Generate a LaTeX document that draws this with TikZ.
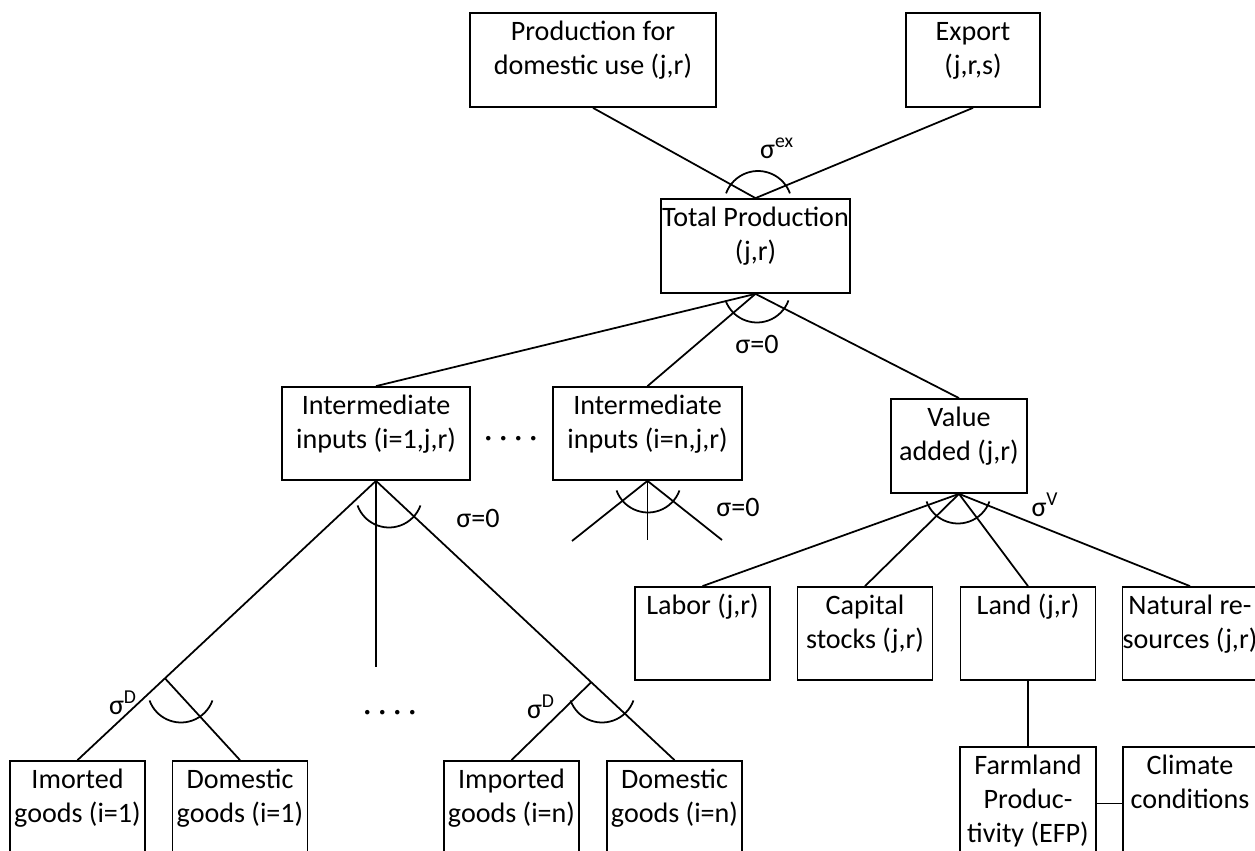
\documentclass[tikz,border=0pt]{standalone}
\usepackage{fontspec}
\setmainfont{Carlito}
\usetikzlibrary{calc}

\newlength{\px}
\setlength{\px}{0.02cm}
% box text: width, height (px), lines
\newcommand{\boxtext}[3]{\parbox[c][#2\px][t]{#1\px}{\centering\rule{0pt}{15.5pt}#3}}
% elasticity arcs round a point
\newcommand{\arcdown}[1]{\draw[conn] ([shift={(200:0.67cm)}]#1) arc[start angle=200,end angle=340,radius=0.67cm];}
\newcommand{\arcup}[1]{\draw[conn] ([shift={(20:0.68cm)}]#1) arc[start angle=20,end angle=160,radius=0.68cm];}
\newcommand{\fourdots}{{\fontsize{18}{18}\selectfont ·\hspace{4pt}·\hspace{4pt}·\hspace{4pt}·}}

\tikzset{
  box/.style={draw, line width=1pt, inner sep=0pt},
  conn/.style={line width=1pt},
  sig/.style={inner sep=1pt},
}

\begin{document}
\begin{tikzpicture}[x=0.02cm, y=-0.02cm, font=\fontsize{16}{19.35}\selectfont]
  \useasboundingbox (0,0) rectangle (1255,851);

  % output side
  \node[box] (prod) at (593,60) {\boxtext{246}{94}{Production for\\domestic use (j,r)}};
  \node[box] (exp)  at (973,60) {\boxtext{134}{94}{Export\\(j,r,s)}};
  \node[box] (tot)  at (755.5,246) {\boxtext{189}{94}{Total Production\\(j,r)}};
  \draw[conn] (prod.south) -- (tot.north);
  \draw[conn] (exp.south) -- (tot.north);
  \arcup{758,205}
  \node[sig] (sigex) at (777,148) {σ\textsuperscript{ex}};

  % first nest
  \node[box] (int1) at (376,433.5) {\boxtext{188}{93}{Intermediate\\inputs (i=1,j,r)}};
  \node[box] (intn) at (647.5,433.5) {\boxtext{189}{93}{Intermediate\\inputs (i=n,j,r)}};
  \node[box] (va)   at (959,446) {\boxtext{136}{94}{Value\\added (j,r)}};
  \node (dotsa) at (511,442) {\fourdots};
  \foreach \nm in {int1,intn,va}
    \draw[conn] (tot.south) -- (\nm.north);
  \arcdown{757,289}
  \node[sig] (sigtot) at (757,344) {σ=0};

  % armington goods
  \foreach \nm/\x/\txt in {imp1/77.5/{Imorted\\goods (i=1)}, dom1/240/{Domestic\\goods (i=1)},
                           impn/511.5/{Imported\\goods (i=n)}, domn/674.5/{Domestic\\goods (i=n)}}
    \node[box] (\nm) at (\x,808) {\boxtext{135}{94}{\txt}};
  \node (dotsb) at (390,716) {\fourdots};

  \coordinate (vmid) at (376,667);
  \draw[conn] (int1.south) -- (imp1.north);
  \draw[conn] (int1.south) -- (vmid);
  \draw[conn] (int1.south) -- (domn.north);
  \coordinate (jl) at ($(int1.south)!0.707!(imp1.north)$);
  \coordinate (jr) at ($(int1.south)!0.721!(domn.north)$);
  \draw[conn] (jl) -- (dom1.north);
  \draw[conn] (jr) -- (impn.north);
  \arcdown{389,494}
  \arcdown{181,689}
  \arcdown{602,689}
  \node[sig] (sigone) at (478,518) {σ=0};
  \node[sig] (sigdl) at (123,703) {σ\textsuperscript{D}};
  \node[sig] (sigdr) at (541,707) {σ\textsuperscript{D}};

  % stubs below the n-th input
  \coordinate (sl) at (572,541);
  \coordinate (sm) at (647.5,540);
  \coordinate (sr) at (722,540);
  \foreach \c in {sl,sm,sr}
    \draw[conn] (intn.south) -- (\c);
  \arcdown{648,479}
  \node[sig] (sign) at (738,507) {σ=0};

  % value added
  \foreach \nm/\x/\txt in {lab/702.5/{Labor (j,r)}, cap/865/{Capital\\stocks (j,r)},
                           land/1028/{Land (j,r)}, nat/1190/{Natural re-\\sources (j,r)}}
    \node[box] (\nm) at (\x,633.5) {\boxtext{135}{93}{\txt}};
  \foreach \nm in {lab,cap,land,nat}
    \draw[conn] (va.south) -- (\nm.north);
  \arcdown{958,490}
  \node[sig] (sigv) at (1045,505) {σ\textsuperscript{V}};

  % land productivity
  \node[box] (farm) at (1028,803.5) {\boxtext{136}{113}{Farmland\\Produc-\\tivity (EFP)}};
  \node[box] (clim) at (1190,803.5) {\boxtext{134}{113}{Climate\\conditions}};
  \draw[conn] (land.south) -- (farm.north);
  \draw[conn] (farm.east) -- (clim.west);
\end{tikzpicture}
\end{document}
